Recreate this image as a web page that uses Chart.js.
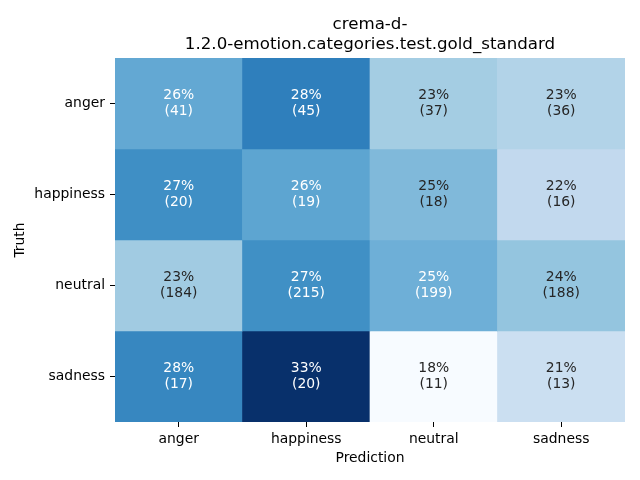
<!DOCTYPE html>
<html>
<head>
<meta charset="utf-8">
<script src="https://cdn.jsdelivr.net/npm/chart.js@4/dist/chart.umd.min.js"></script>
<style>
  html, body { margin: 0; padding: 0; background: #fff; }
  #wrap { width: 640px; height: 480px; }
</style>
</head>
<body>
<div id="wrap"><canvas id="c" width="640" height="480"></canvas></div>
<script>
// ---- Data ----
const titleLines = ['crema-d-', '1.2.0-emotion.categories.test.gold_standard'];
const predictionLabels = ['anger', 'happiness', 'neutral', 'sadness'];
const truthLabels = ['anger', 'happiness', 'neutral', 'sadness'];
const angerCounts = [41, 45, 37, 36];
const happinessCounts = [20, 19, 18, 16];
const neutralCounts = [184, 215, 199, 188];
const sadnessCounts = [17, 20, 11, 13];
const xAxisTitle = 'Prediction';
const yAxisTitle = 'Truth';

const countRows = [angerCounts, happinessCounts, neutralCounts, sadnessCounts];

// row-normalised proportions (confusion matrix normalised by truth)
const rates = countRows.map(row => {
  const s = row.reduce((a, b) => a + b, 0);
  return row.map(v => v / s);
});

// matplotlib "Blues" colormap
const bluesStops = [
  [247,251,255],[222,235,247],[198,219,239],[158,202,225],[107,174,214],
  [66,146,198],[33,113,181],[8,81,156],[8,48,107]
];
function blues(t) {
  t = Math.max(0, Math.min(1, t));
  const n = bluesStops.length - 1;
  const f = t * n;
  const i = Math.min(Math.floor(f), n - 1);
  const u = f - i;
  const a = bluesStops[i], b = bluesStops[i + 1];
  return [0, 1, 2].map(k => a[k] + (b[k] - a[k]) * u);
}
const allRates = rates.flat();
const vmin = Math.min(...allRates), vmax = Math.max(...allRates);
function cellRGB(v) { return blues((v - vmin) / (vmax - vmin)); }
function rgbStr(c) { return 'rgb(' + c.map(x => Math.round(x)).join(',') + ')'; }
function luminance(c) {
  const l = c.map(x => { x = x / 255; return x <= 0.03928 ? x / 12.92 : Math.pow((x + 0.055) / 1.055, 2.4); });
  return l[0] * 0.2126 + l[1] * 0.7152 + l[2] * 0.0722;
}

const FONT = '"DejaVu Sans", "Liberation Sans", sans-serif';

const datasets = truthLabels.map((t, r) => ({
  label: t,
  data: predictionLabels.map(() => 1),
  backgroundColor: rates[r].map(v => rgbStr(cellRGB(v))),
  borderWidth: 0,
  borderSkipped: false,
  barPercentage: 1.0,
  categoryPercentage: 1.0,
  stack: 's'
}));

const cellTextPlugin = {
  id: 'cellText',
  afterDatasetsDraw(chart) {
    const ctx = chart.ctx;
    ctx.save();
    ctx.font = '13.9px ' + FONT;
    ctx.textAlign = 'center';
    ctx.textBaseline = 'middle';
    chart.data.datasets.forEach((ds, r) => {
      const meta = chart.getDatasetMeta(r);
      meta.data.forEach((bar, c) => {
        const v = rates[r][c];
        const col = cellRGB(v);
        ctx.fillStyle = luminance(col) > 0.408 ? '#262626' : '#ffffff';
        const cy = (bar.y + bar.base) / 2;
        ctx.fillText(Math.round(v * 100) + '%', bar.x, cy - 8.3);
        ctx.fillText('(' + countRows[r][c] + ')', bar.x, cy + 8.3);
      });
    });
    ctx.restore();
  }
};

const titlePlugin = {
  id: 'axesTitle',
  afterDraw(chart) {
    const ctx = chart.ctx;
    const a = chart.chartArea;
    const cx = (a.left + a.right) / 2;
    ctx.save();
    ctx.font = '16.67px ' + FONT;
    ctx.fillStyle = '#000';
    ctx.textAlign = 'center';
    ctx.textBaseline = 'middle';
    titleLines.forEach((line, i) => {
      ctx.fillText(line, cx, 24.5 + i * 20.5);
    });
    ctx.restore();
  }
};

new Chart(document.getElementById('c'), {
  type: 'bar',
  data: { labels: predictionLabels, datasets },
  plugins: [cellTextPlugin, titlePlugin],
  options: {
    responsive: false,
    animation: false,
    devicePixelRatio: 1,
    layout: { padding: { top: 58, right: 15, left: 0, bottom: 0 } },
    plugins: { legend: { display: false }, tooltip: { enabled: false }, title: { display: false } },
    scales: {
      x: {
        stacked: true,
        offset: true,
        grid: { display: true, offset: false, drawOnChartArea: false, drawTicks: true, tickLength: 5, color: '#000', lineWidth: 1 },
        border: { display: false },
        ticks: { color: '#000', padding: 4, font: { family: FONT, size: 13.9 }, maxRotation: 0 },
        title: { display: true, text: xAxisTitle, color: '#000', font: { family: FONT, size: 13.9 }, padding: { top: 0, bottom: 13.5 } },
        afterFit(scale) { scale.height = 58; }
      },
      y: {
        type: 'linear',
        stacked: true,
        min: 0,
        max: 4,
        reverse: true,
        afterBuildTicks(scale) {
          scale.ticks = truthLabels.map((_, i) => ({ value: i + 0.5 }));
        },
        grid: { display: true, drawOnChartArea: false, drawTicks: true, tickLength: 5, color: '#000', lineWidth: 1 },
        border: { display: false },
        ticks: {
          color: '#000', padding: 5, font: { family: FONT, size: 13.9 },
          callback(value) { return truthLabels[Math.floor(value)]; }
        },
        title: { display: true, text: yAxisTitle, color: '#000', font: { family: FONT, size: 13.9 }, padding: { top: 12, bottom: 0 } },
        afterFit(scale) { scale.width = 115; }
      }
    }
  }
});
</script>
</body>
</html>
